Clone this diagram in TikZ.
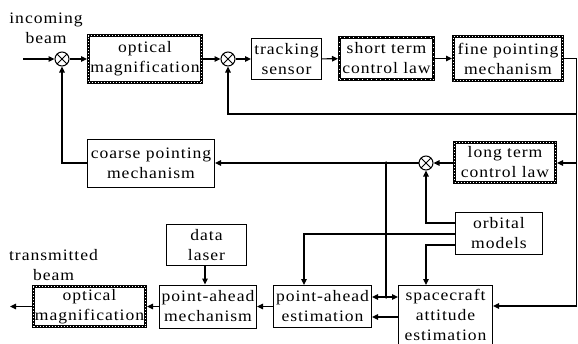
\documentclass[tikz,border=0pt]{standalone}
\usepackage{fontspec}
\setmainfont{Liberation Serif}[FakeStretch=1.1,LetterSpace=6]
\usetikzlibrary{arrows.meta}
\tikzset{
  lbl/.style={font=\fontsize{16}{20}\selectfont, align=center, inner sep=0pt},
  plainbox/.style={lbl, draw, line width=1pt},
  fancybox/.style={lbl, draw, line width=3pt,
     postaction={draw=white, line width=0.6pt, dash pattern=on 0.6pt off 2.4pt}},
  boldbox/.style={lbl, draw, line width=3pt,
     postaction={draw=white, line width=0.5pt, dash pattern=on 0.5pt off 4pt}},
  sumnode/.style={circle, draw, line width=1pt, minimum size=14pt, inner sep=0pt,
     path picture={\draw[line width=0.9pt] (path picture bounding box.north west) -- (path picture bounding box.south east)
       (path picture bounding box.north east) -- (path picture bounding box.south west);}},
  conn/.style={line width=1.1pt, -{Triangle[length=6pt,width=5.5pt]}},
  wire/.style={line width=1.1pt},
  dotj/.style={circle, fill, inner sep=0pt, minimum size=3.5pt}
}
\begin{document}
\begin{tikzpicture}[x=1pt,y=-1pt]
\useasboundingbox (0,0) rectangle (578,343);
\clip (0,0) rectangle (578,343);
\fill[white] (0,0) rectangle (578,343);
% top row
\node[lbl, anchor=base] (t1) at (46,23) {incoming};
\node[lbl, anchor=base] (t2) at (46,43) {beam};
\coordinate (in) at (23,59);
\node[sumnode] (s1) at (62,59) {};
\node[fancybox, minimum width=113pt, minimum height=47pt] (om1) at (145,59) {optical\\magnification};
\node[sumnode] (s2) at (228,59) {};
\node[plainbox, minimum width=70pt, minimum height=41pt] (ts) at (286.5,59) {tracking\\sensor};
\node[boldbox, minimum width=94pt, minimum height=42pt] (stcl) at (386.5,58.5) {short term\\control law};
\node[fancybox, minimum width=109pt, minimum height=44pt] (fpm) at (508,58.5) {fine pointing\\mechanism};
\draw[conn] (in) -- (s1);
\draw[conn] (s1) -- (om1);
\draw[conn] (om1) -- (s2);
\draw[conn] (s2) -- (ts);
\draw[conn] (ts) -- (stcl);
\draw[conn] (stcl) -- (fpm);
\coordinate (rt) at (576.5,58.5);
\coordinate (fb) at (576.5,114);
\coordinate (rl) at (576.5,163);
\coordinate (rb) at (576.5,306);
\draw[wire] (fpm.east) -- (rt) -- (rb);
\draw[conn] (fb) -| (s2.south);
% middle row
\node[plainbox, minimum width=127pt, minimum height=48pt] (cpm) at (151,163) {coarse pointing\\mechanism};
\node[fancybox, minimum width=101pt, minimum height=40pt] (ltcl) at (505,162) {long term\\control law};
\node[sumnode] (s3) at (426,163) {};
\coordinate (j1) at (386,163);
\draw[conn] (rl) -- (rl -| ltcl.east);
\draw[conn] (ltcl.west |- rl) -- (s3);
\draw[conn] (s3) -- (cpm);
\draw[conn] (cpm.west) -| (s1.south);
% bottom
\node[plainbox, minimum width=87pt, minimum height=42pt] (om) at (499,233.5) {orbital\\models};
\node[plainbox, minimum width=80pt, minimum height=41pt] (dl) at (206.5,245) {data\\laser};
\node[plainbox, minimum width=98pt, minimum height=42pt] (pae) at (322.5,306.5) {point-ahead\\estimation};
\node[plainbox, minimum width=94pt, minimum height=59pt, anchor=north] (sae) at (445.5,285) {spacecraft\\attitude\\estimation};
\node[plainbox, minimum width=97pt, minimum height=43pt] (pam) at (208,306.5) {point-ahead\\mechanism};
\node[fancybox, minimum width=112pt, minimum height=40pt] (om2) at (89.5,306.5) {optical\\magnification};
\node[lbl, anchor=base] (t3) at (53.5,260) {transmitted};
\node[lbl, anchor=base] (t4) at (53.5,280) {beam};
\coordinate (out) at (10,306.5);
\coordinate (o1) at (455,223);
\coordinate (o2) at (455,234);
\coordinate (o2c) at (304,234);
\coordinate (o3) at (455,245);
\coordinate (o3c) at (426,245);
\coordinate (j2) at (386,297);
\coordinate (j3) at (398,317);
\coordinate (dlx) at (205,266);
\draw[conn] (o1) -| (s3.south);
\draw[conn] (o2) -- (o2c) -- (o2c |- pae.north);
\draw[conn] (o3) -- (o3c) -- (o3c |- sae.north);
\draw[wire] (j1) -- (j2);
\draw[conn] (j2) -- (j2 -| pae.east);
\draw[conn] (j2) -- (j2 -| sae.west);
\draw[conn] (j3) -- (j3 -| pae.east);
\draw[conn] (rb) -- (rb -| sae.east);
\draw[conn] (pae) -- (pam);
\draw[conn] (pam) -- (om2);
\draw[conn] (dlx) -- (dlx |- pam.north);
\draw[conn] (om2.west) -- (out);
\node[dotj] (d1) at (j1) {};
\node[dotj] (d2) at (j2) {};
\end{tikzpicture}
\end{document}
